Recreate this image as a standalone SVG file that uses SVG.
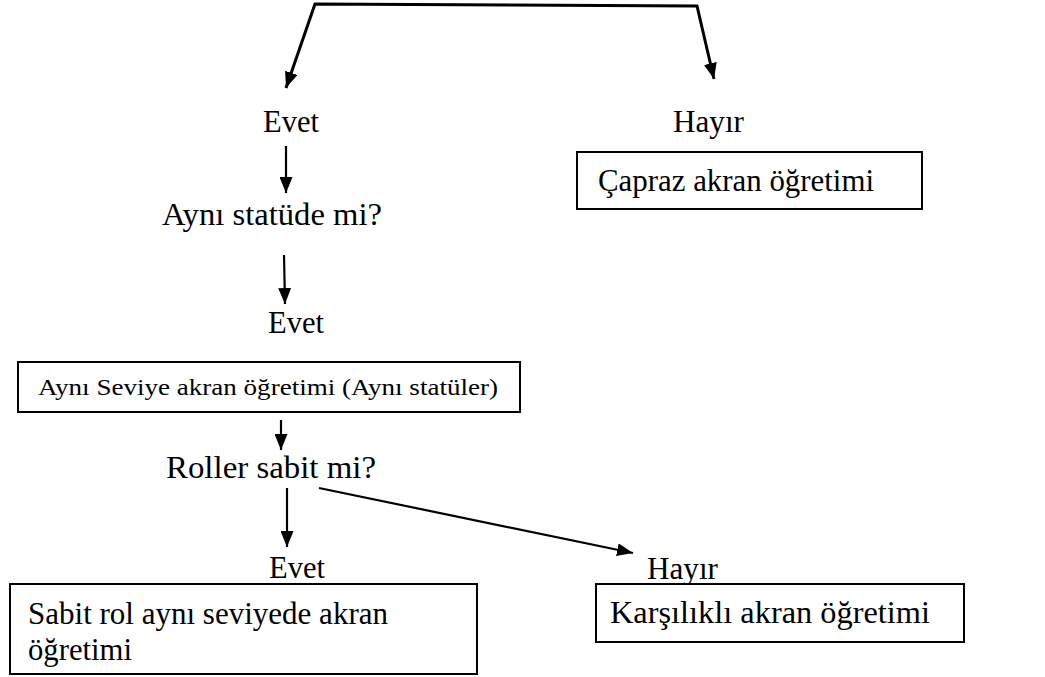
<svg xmlns="http://www.w3.org/2000/svg" width="1045" height="677" viewBox="0 0 1045 677">
<style>
  .t { font-family: "Liberation Serif", "Times New Roman", serif; font-size: 31px; fill: #000; }
  .s { font-family: "Liberation Serif", "Times New Roman", serif; font-size: 24px; fill: #000; }
  .box { fill: #fff; stroke: #000; stroke-width: 2; }
  .ln { fill: none; stroke: #000; stroke-width: 2.2; }
  .top { fill: none; stroke: #000; stroke-width: 3; }
</style>
<defs>
  <marker id="ah" viewBox="0 0 16 13" refX="16" refY="6.5" markerWidth="16" markerHeight="13" markerUnits="userSpaceOnUse" orient="auto-start-reverse">
    <path d="M0,0 L16,6.5 L0,13 z" fill="#000"/>
  </marker>
</defs>
<rect width="1045" height="677" fill="#fff"/>
<g id="connectors">
  <polyline class="top" points="286,88 315,4 697,6 714,79" marker-start="url(#ah)" marker-end="url(#ah)"/>
  <line class="ln" x1="286" y1="146" x2="286" y2="193" marker-end="url(#ah)"/>
  <line class="ln" x1="284" y1="255" x2="285" y2="304" marker-end="url(#ah)"/>
  <line class="ln" x1="281" y1="420" x2="281" y2="450" marker-end="url(#ah)"/>
  <line class="ln" x1="287" y1="488" x2="287" y2="547" marker-end="url(#ah)"/>
  <line class="ln" x1="319" y1="488" x2="633" y2="553" marker-end="url(#ah)"/>
</g>
<g id="evet1"><text class="t" x="263" y="132" textLength="56" lengthAdjust="spacingAndGlyphs">Evet</text></g>
<g id="hayir1"><text class="t" x="673" y="132" textLength="71" lengthAdjust="spacingAndGlyphs">Hayır</text></g>
<g id="capraz">
  <rect class="box" x="577" y="152" width="345" height="57"/>
  <text class="t" x="598" y="191" textLength="276" lengthAdjust="spacingAndGlyphs">Çapraz akran öğretimi</text>
</g>
<g id="statu"><text class="t" x="162" y="225" textLength="220" lengthAdjust="spacingAndGlyphs">Aynı statüde mi?</text></g>
<g id="evet2"><text class="t" x="268" y="333" textLength="56" lengthAdjust="spacingAndGlyphs">Evet</text></g>
<g id="ayniSeviye">
  <rect class="box" x="18" y="362" width="502" height="50"/>
  <text class="s" x="38" y="395" textLength="460" lengthAdjust="spacingAndGlyphs">Aynı Seviye akran öğretimi (Aynı statüler)</text>
</g>
<g id="roller"><text class="t" x="166" y="478" textLength="210" lengthAdjust="spacingAndGlyphs">Roller sabit mi?</text></g>
<g id="evet3"><text class="t" x="269" y="578" textLength="56" lengthAdjust="spacingAndGlyphs">Evet</text></g>
<g id="hayir3"><text class="t" x="647" y="579" textLength="71" lengthAdjust="spacingAndGlyphs">Hayır</text></g>
<g id="sabit">
  <rect class="box" x="10" y="584" width="467" height="90"/>
  <text class="t" x="28" y="624" textLength="360" lengthAdjust="spacingAndGlyphs">Sabit rol aynı seviyede akran</text>
  <text class="t" x="28" y="660" textLength="104" lengthAdjust="spacingAndGlyphs">öğretimi</text>
</g>
<g id="karsilikli">
  <rect class="box" x="596" y="584" width="368" height="58"/>
  <text class="t" x="610" y="623" textLength="320" lengthAdjust="spacingAndGlyphs">Karşılıklı akran öğretimi</text>
</g>
</svg>
